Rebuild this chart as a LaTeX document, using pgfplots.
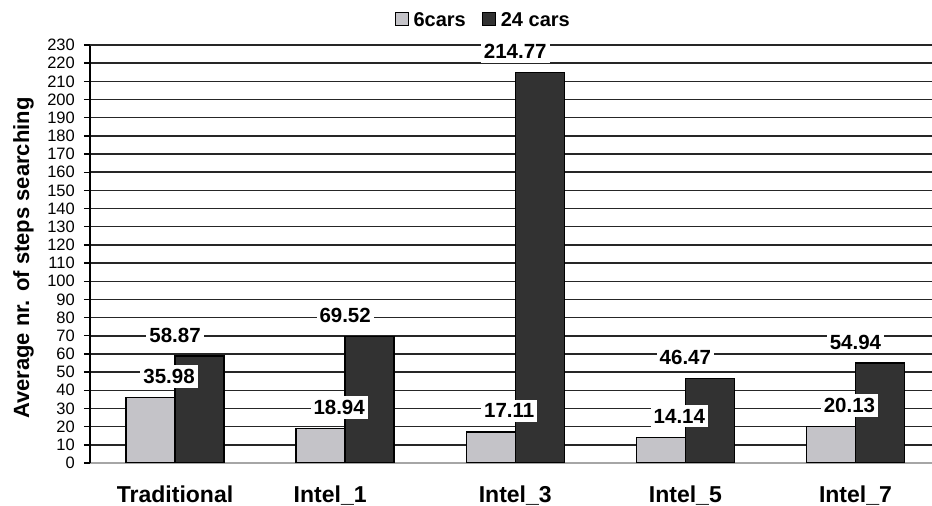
\documentclass[border=0pt]{standalone}
\usepackage{pgfplots}
\pgfplotsset{compat=1.18}
\usepackage{fontspec}
\setmainfont{Liberation Sans}
\definecolor{lightbar}{RGB}{196,195,200}
\definecolor{darkbar}{RGB}{50,50,50}

\begin{document}
\begin{tikzpicture}[x=1pt,y=1pt]
\path[use as bounding box] (0,0) rectangle (932,506);
\begin{axis}[
  at={(90pt,43pt)}, anchor=south west,
  scale only axis, width=842pt, height=418pt,
  xmin=-0.5, xmax=4.45, ymin=0, ymax=230,
  /pgf/number format/assume math mode=true,
  axis x line*=bottom, axis y line*=left,
  x axis line style={-, draw=gray!70, line width=1.5pt},
  y axis line style={-, draw=black, line width=1.6pt},
  xtick={0,1,2,3,4},
  xticklabels={Traditional,{\hspace*{-30pt}Intel\_1},Intel\_3,Intel\_5,Intel\_7},
  xticklabel style={font=\fontsize{23}{26}\selectfont\bfseries, yshift=-13pt},
  x tick style={draw=none},
  major x tick style={draw=none},
  ytick={0,10,...,220},
  extra y ticks={230},
  extra y tick style={grid style={draw=gray!55, line width=1.4pt}},
  tick align=outside,
  major tick length=6pt,
  y tick style={draw=black, line width=1.4pt},
  yticklabel style={font=\fontsize{16.5}{18}\selectfont, anchor=east, inner sep=0pt, xshift=-9pt},
  ymajorgrids,
  major grid style={draw=black!85, line width=1.5pt},
  ylabel={Average nr. of steps searching},
  every axis y label/.style={at={(axis description cs:-0.079,0.49)}, rotate=90, anchor=center,
    font=\fontsize{22}{24}\selectfont\bfseries},
  legend columns=2,
  legend style={at={(0.467,1.06)}, anchor=center, draw=none, fill=none,
    font=\fontsize{20}{22}\selectfont\bfseries,
    /tikz/every even column/.append style={column sep=14pt}},
  legend image code/.code={\draw[#1, draw=black, line width=1pt] (0pt,-6pt) rectangle (13pt,7pt);},
  point meta=explicit symbolic,
  nodes near coords,
  every node near coord/.append style={font=\fontsize{20.5}{22}\selectfont\bfseries,
    fill=white, inner xsep=3pt, inner ysep=4pt, anchor=center},
]
% 6 cars
\addplot[ybar, bar width=0.288, bar shift=-0.144, fill=lightbar, draw=black, line width=1.4pt,
  every node near coord/.append style={yshift=21pt, xshift=-6pt, line width=0pt, draw=none}]
  coordinates {(0,35.98) [35.98] (1,18.94) [18.94] (2,17.11) [17.11] (3,14.14) [14.14] (4,20.13) [20.13]};
% 24 cars
\addplot[ybar, bar width=0.288, bar shift=0.144, fill=darkbar, draw=black, line width=1.4pt,
  every node near coord/.append style={yshift=21pt, line width=0pt, draw=none}]
  coordinates {(0,58.87) [58.87] (1,69.52) [69.52] (2,214.77) [214.77] (3,46.47) [46.47] (4,54.94) [54.94]};
\legend{\hspace{3pt}6cars, \hspace{3pt}24 cars}
\end{axis}
\end{tikzpicture}
\end{document}
